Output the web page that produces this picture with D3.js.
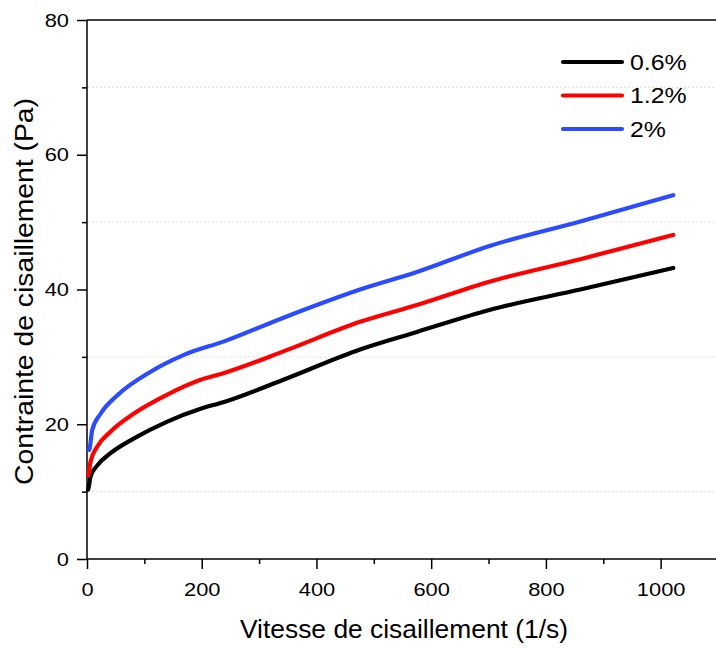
<!DOCTYPE html>
<html><head><meta charset="utf-8">
<script src="https://cdn.jsdelivr.net/npm/d3@7"></script>
<style>body{margin:0;background:#fff}svg{display:block}text{font-family:"Liberation Sans",Arial,sans-serif}</style>
</head><body><svg id="c" width="716" height="648"></svg>
<script>
const seriesNames = ["0.6%", "1.2%", "2%"];
const seriesColors = ["#000000", "#ff0000", "#2b4bff"];
const shearRate = {
  "0.6%": [2, 3.5, 6, 18, 41, 82, 140, 198, 239, 348, 476, 575, 703, 860, 1022],
  "1.2%": [2.5, 3.5, 6, 18, 41, 82, 140, 198, 239, 348, 476, 575, 703, 860, 1022],
  "2%":   [4, 5, 9, 24, 53, 111, 169, 239, 348, 476, 575, 703, 860, 1022]
};
const stress = {
  "0.6%": [10.3, 10.9, 12.2, 13.9, 15.7, 17.9, 20.4, 22.3, 23.3, 26.8, 31.1, 33.7, 37.0, 40.0, 43.2],
  "1.2%": [12.4, 12.9, 14.4, 16.7, 18.9, 21.6, 24.4, 26.6, 27.6, 31.0, 35.2, 37.7, 41.2, 44.5, 48.1],
  "2%":   [16.2, 16.6, 19.1, 21.6, 24.3, 27.8, 30.3, 32.3, 36.0, 40.0, 42.6, 46.5, 50.1, 54.0]
};
const xTicks = [0, 200, 400, 600, 800, 1000];
const xMinor = [100, 300, 500, 700, 900];
const yTicks = [0, 20, 40, 60, 80];
const yMinor = [10, 30, 50, 70];
const xTitle = "Vitesse de cisaillement (1/s)";
const yTitle = "Contrainte de cisaillement (Pa)";

const svg = d3.select("#c");
const x = d3.scaleLinear().domain([0, 1100]).range([87, 718]);
const y = d3.scaleLinear().domain([0, 80]).range([559, 20]);

function stretch(sel, k) {
  sel.each(function () {
    const w = this.getComputedTextLength();
    d3.select(this).attr("textLength", w * k).attr("lengthAdjust", "spacingAndGlyphs");
  });
}

// dotted grid at minor y ticks
svg.append("g").selectAll("line").data(yMinor).join("line")
  .attr("x1", 88).attr("x2", 716).attr("y1", d => y(d)).attr("y2", d => y(d))
  .attr("stroke", "#e0e0e0").attr("stroke-width", 1).attr("stroke-dasharray", "2,2");

// top frame
svg.append("line").attr("x1", 87).attr("x2", 716).attr("y1", y(80)).attr("y2", y(80))
  .attr("stroke", "#000").attr("stroke-width", 1.5);

const xAxis = svg.append("g").attr("transform", `translate(0,${y(0)})`)
  .call(d3.axisBottom(x).tickValues(xTicks).tickSize(10).tickPadding(14).tickFormat(d3.format("d")));
svg.append("g").attr("transform", `translate(0,${y(0)})`)
  .call(d3.axisBottom(x).tickValues(xMinor).tickSize(5).tickFormat(""))
  .select(".domain").remove();
const yAxis = svg.append("g").attr("transform", `translate(${x(0)},0)`)
  .call(d3.axisLeft(y).tickValues(yTicks).tickSize(10).tickPadding(8).tickFormat(d3.format("d")));
svg.append("g").attr("transform", `translate(${x(0)},0)`)
  .call(d3.axisLeft(y).tickValues(yMinor).tickSize(5).tickFormat(""))
  .select(".domain").remove();

svg.selectAll(".domain").attr("stroke", "#000").attr("stroke-width", 1.5);
svg.selectAll(".tick line").attr("stroke", "#000").attr("stroke-width", 1.5);
svg.selectAll(".tick text").attr("font-size", 19).attr("fill", "#000")
  .attr("font-family", "Liberation Sans, Arial, sans-serif");
stretch(svg.selectAll(".tick text"), 1.15);
xAxis.select(".domain").attr("d", `M${x(0)},0H716`);
yAxis.select(".domain").attr("d", `M0,${y(0)}V${y(80)}`);

const line = d3.line().x(d => x(d[0])).y(d => y(d[1])).curve(d3.curveMonotoneX);
seriesNames.forEach((s, i) => {
  const pts = shearRate[s].map((v, j) => [v, stress[s][j]]);
  svg.append("path").datum(pts).attr("d", line)
    .attr("fill", "none").attr("stroke", seriesColors[i]).attr("stroke-width", 4.2)
    .attr("stroke-linecap", "round").attr("stroke-linejoin", "round");
});

// legend
const lg = svg.append("g");
seriesNames.forEach((s, i) => {
  const yy = 62 + i * 33.5;
  lg.append("line").attr("x1", 563).attr("x2", 622).attr("y1", yy).attr("y2", yy)
    .attr("stroke", seriesColors[i]).attr("stroke-width", 4.2).attr("stroke-linecap", "round");
  lg.append("text").attr("x", 630).attr("y", yy).attr("dy", "0.36em")
    .attr("font-size", 22).attr("fill", "#000").text(s);
});
stretch(lg.selectAll("text"), 1.13);

svg.append("text").attr("x", 404).attr("y", 638).attr("text-anchor", "middle")
  .attr("font-size", 25).attr("fill", "#000")
  .attr("textLength", 328).attr("lengthAdjust", "spacingAndGlyphs").text(xTitle);
svg.append("text").attr("transform", "translate(33,291.5) rotate(-90)").attr("text-anchor", "middle")
  .attr("font-size", 25).attr("fill", "#000")
  .attr("textLength", 387).attr("lengthAdjust", "spacingAndGlyphs").text(yTitle);
</script></body></html>
